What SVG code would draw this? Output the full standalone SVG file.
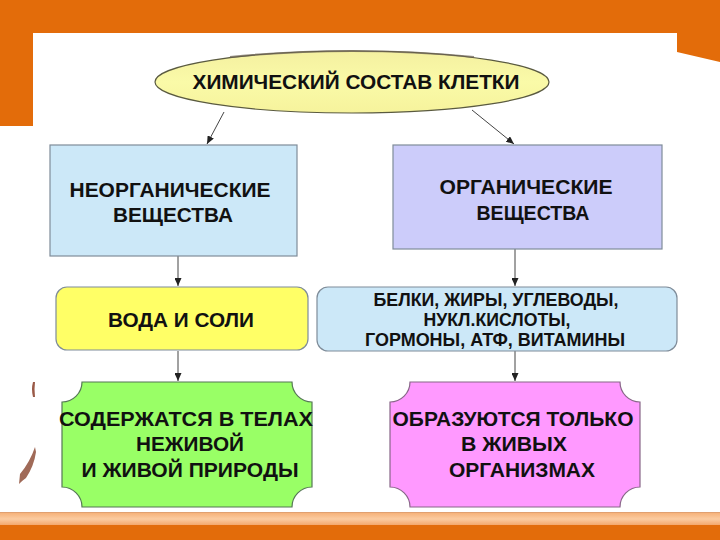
<svg xmlns="http://www.w3.org/2000/svg" width="720" height="540" viewBox="0 0 720 540">
<style>
  text { font-family: "Liberation Sans", Arial, sans-serif; font-weight: bold; fill: #111; text-anchor: middle; }
  .t21 { font-size: 21px; }
  .t20 { font-size: 20.5px; }
  .t19 { font-size: 19px; }
  .box { stroke: #7f8c99; stroke-width: 1.2; }
  .conn { stroke: #444; stroke-width: 1; fill: none; marker-end: url(#arr); }
</style>
<defs>
  <marker id="arr" markerUnits="userSpaceOnUse" markerWidth="9" markerHeight="7" refX="8" refY="3.5" orient="auto">
    <path d="M0,0 L8,3.5 L0,7 z" fill="#222"/>
  </marker>
  <linearGradient id="ell" x1="0" y1="0" x2="0" y2="1">
    <stop offset="0" stop-color="#f4f0a0"/>
    <stop offset="0.5" stop-color="#fafaa8"/>
    <stop offset="1" stop-color="#f6f39c"/>
  </linearGradient>
  <linearGradient id="band" x1="0" y1="0" x2="0" y2="1">
    <stop offset="0" stop-color="#f6b27a"/>
    <stop offset="0.5" stop-color="#fbcba0"/>
    <stop offset="1" stop-color="#f4a86c"/>
  </linearGradient>
</defs>

<!-- background -->
<rect x="0" y="0" width="720" height="540" fill="#ffffff"/>
<path d="M0,0 H720 V62 L677,52 V33 H33 V126 H0 Z" fill="#e36c0a"/>
<rect x="0" y="512" width="720" height="1.5" fill="#e0a070"/>
<rect x="0" y="513" width="720" height="12" fill="url(#band)"/>
<rect x="0" y="525" width="720" height="15" fill="#e36c0a"/>
<!-- small marks at left -->
<path d="M33,382 Q31,389 33,397 L35,397 Q34,389 35,382 Z" fill="#9a5a48"/>
<path d="M35,447 Q30,462 20,474 L19,484 Q23,480 26,478 Q34,466 36,452 Z" fill="#a06a58"/>

<!-- connectors -->
<g id="connectors">
  <line class="conn" x1="224" y1="112" x2="207" y2="144"/>
  <line class="conn" x1="472" y1="110" x2="514" y2="144"/>
  <line class="conn" x1="178" y1="256" x2="178" y2="286"/>
  <line class="conn" x1="515" y1="249" x2="515" y2="286"/>
  <line class="conn" x1="178" y1="351" x2="178" y2="381"/>
  <line class="conn" x1="515" y1="351" x2="515" y2="381"/>
</g>

<g id="root">
  <ellipse cx="352" cy="82" rx="197" ry="31" fill="url(#ell)" stroke="#5a5a40" stroke-width="1.2"/>
  <path d="M230,57 Q352,45 474,57" fill="none" stroke="#6a6050" stroke-width="2" opacity="0.7"/>
  <text class="t21" x="356" y="89" textLength="327" lengthAdjust="spacingAndGlyphs">ХИМИЧЕСКИЙ СОСТАВ КЛЕТКИ</text>
</g>

<g id="inorganic">
  <rect class="box" x="50" y="145" width="247" height="111" fill="#cce8f8"/>
  <text class="t21" x="170" y="197" textLength="201" lengthAdjust="spacingAndGlyphs">НЕОРГАНИЧЕСКИЕ</text>
  <text class="t21" x="173" y="222" textLength="120" lengthAdjust="spacingAndGlyphs">ВЕЩЕСТВА</text>
</g>

<g id="organic">
  <rect class="box" x="393" y="145" width="269" height="104" fill="#ccccfa" stroke="#8080a0"/>
  <text class="t21" x="526" y="194" textLength="173" lengthAdjust="spacingAndGlyphs">ОРГАНИЧЕСКИЕ</text>
  <text class="t21" x="533" y="220" textLength="113" lengthAdjust="spacingAndGlyphs">ВЕЩЕСТВА</text>
</g>

<g id="water">
  <rect class="box" x="56" y="287" width="252" height="63" rx="11" fill="#ffff66"/>
  <text class="t21" x="181" y="327" textLength="146" lengthAdjust="spacingAndGlyphs">ВОДА И СОЛИ</text>
</g>

<g id="list">
  <rect class="box" x="317" y="287" width="360" height="64" rx="11" fill="#cce8f8"/>
  <text class="t19" x="496" y="306" textLength="245" lengthAdjust="spacingAndGlyphs">БЕЛКИ, ЖИРЫ, УГЛЕВОДЫ,</text>
  <text class="t19" x="497" y="326" textLength="147" lengthAdjust="spacingAndGlyphs">НУКЛ.КИСЛОТЫ,</text>
  <text class="t19" x="495" y="346" textLength="260" lengthAdjust="spacingAndGlyphs">ГОРМОНЫ, АТФ, ВИТАМИНЫ</text>
</g>

<g id="nonliving">
  <path d="M82,382 H292 A20,20 0 0 0 312,402 V487 A20,20 0 0 0 292,507 H82 A20,20 0 0 0 62,487 V402 A20,20 0 0 0 82,382 Z" fill="#99ff66" stroke="#557755" stroke-width="1.2"/>
  <text class="t20" x="186" y="426" textLength="254" lengthAdjust="spacingAndGlyphs">СОДЕРЖАТСЯ В ТЕЛАХ</text>
  <text class="t20" x="190" y="451" textLength="108" lengthAdjust="spacingAndGlyphs">НЕЖИВОЙ</text>
  <text class="t20" x="190" y="477" textLength="217" lengthAdjust="spacingAndGlyphs">И ЖИВОЙ ПРИРОДЫ</text>
</g>

<g id="living">
  <path d="M410,382 H620 A20,20 0 0 0 640,402 V487 A20,20 0 0 0 620,507 H410 A20,20 0 0 0 390,487 V402 A20,20 0 0 0 410,382 Z" fill="#ff99ff" stroke="#886688" stroke-width="1.2"/>
  <text class="t20" x="513" y="426" textLength="241" lengthAdjust="spacingAndGlyphs">ОБРАЗУЮТСЯ ТОЛЬКО</text>
  <text class="t20" x="514" y="451" textLength="106" lengthAdjust="spacingAndGlyphs">В ЖИВЫХ</text>
  <text class="t20" x="522" y="477" textLength="146" lengthAdjust="spacingAndGlyphs">ОРГАНИЗМАХ</text>
</g>
</svg>
